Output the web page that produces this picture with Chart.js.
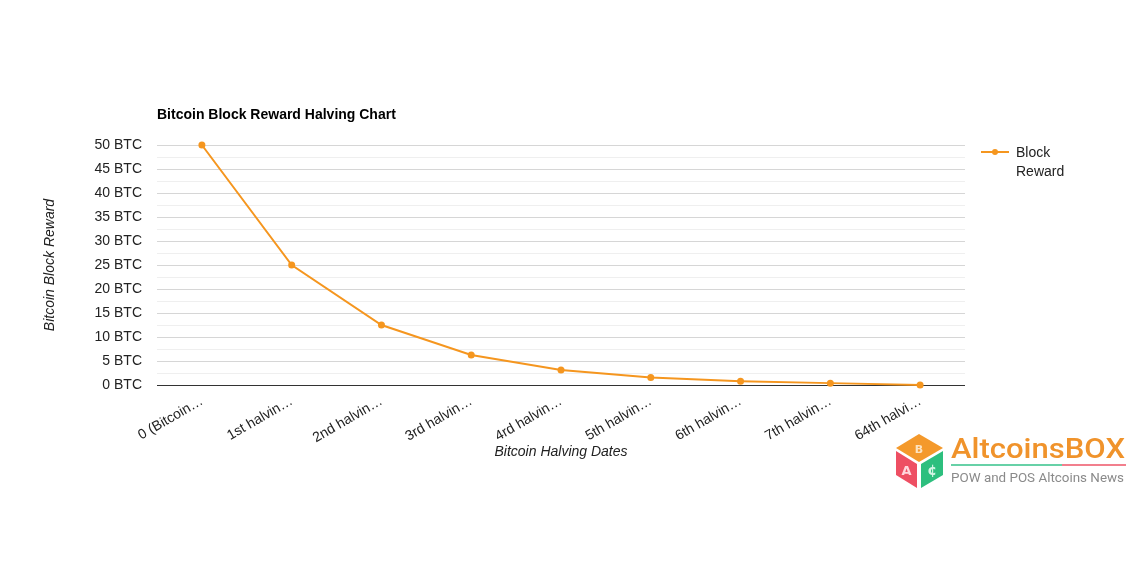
<!DOCTYPE html>
<html>
<head>
<meta charset="utf-8">
<title>Bitcoin Block Reward Halving Chart</title>
<script src="https://cdn.jsdelivr.net/npm/chart.js@4.4.1/dist/chart.umd.min.js"></script>
<style>
  body { margin: 0; background: #fff; }
  #wrap { position: relative; width: 1140px; height: 570px; }
  #logo { position: absolute; left: 890px; top: 428px; }
</style>
</head>
<body>
<div id="wrap">
  <canvas id="myChart" width="1140" height="570"></canvas>
  <svg id="logo" width="245" height="64" viewBox="0 0 245 64">
    <!-- cubo -->
    <polygon points="6,20 29,6 53,20 29,34" fill="#f4992b"/>
    <polygon points="6,23 27,36 27,60 6,47" fill="#ee4f63"/>
    <polygon points="31,36 53,23 53,47 31,60" fill="#2dbf7e"/>
    <text x="29" y="24.5" text-anchor="middle" font-family="DejaVu Sans, sans-serif" font-size="11" font-weight="bold" fill="#fde3bf">B</text>
    <text x="16.5" y="47" text-anchor="middle" font-family="DejaVu Sans, sans-serif" font-size="13" font-weight="bold" fill="#ffd6dc">A</text>
    <text x="42" y="47" text-anchor="middle" font-family="DejaVu Sans, sans-serif" font-size="14" font-weight="bold" fill="#d3f5e4">¢</text>
    <!-- texto -->
    <text x="61" y="30" font-family="Roboto, sans-serif" font-size="28" font-weight="500" fill="#f0932b" textLength="174" lengthAdjust="spacingAndGlyphs">AltcoinsBOX</text>
    <line x1="61" y1="37" x2="172" y2="37" stroke="#35c28a" stroke-width="1.6"/>
    <line x1="172" y1="37" x2="236" y2="37" stroke="#ee5567" stroke-width="1.6"/>
    <text x="61" y="54" font-family="Roboto, sans-serif" font-size="13.5" fill="#8a8a8a" textLength="173" lengthAdjust="spacingAndGlyphs">POW and POS Altcoins News</text>
  </svg>
</div>

<script>
// ---------- Datos ----------
const halvings = [
  '0 (Bitcoin…', '1st halvin…', '2nd halvin…', '3rd halvin…', '4rd halvin…',
  '5th halvin…', '6th halvin…', '7th halvin…', '64th halvi…'
];
const blockReward = [50, 25, 12.5, 6.25, 3.125, 1.5625, 0.78125, 0.390625, 0];
const yMajorTicks = [0, 5, 10, 15, 20, 25, 30, 35, 40, 45, 50];
const yMinorTicks = [2.5, 7.5, 12.5, 17.5, 22.5, 27.5, 32.5, 37.5, 42.5, 47.5];

const chartTitle = 'Bitcoin Block Reward Halving Chart';
const xTitle = 'Bitcoin Halving Dates';
const yTitle = 'Bitcoin Block Reward';
const legendLines = ['Block', 'Reward'];

const lineColor = '#f5961f';
const fontFamily = '"Liberation Sans", Arial, sans-serif';

// ---------- Textos (título, ejes, leyenda) ----------
const textosPlugin = {
  id: 'textos',
  afterDraw(chart) {
    const { ctx, chartArea } = chart;
    ctx.save();
    ctx.textBaseline = 'middle';

    // título
    ctx.fillStyle = '#000';
    ctx.font = 'bold 14px ' + fontFamily;
    ctx.textAlign = 'left';
    ctx.fillText(chartTitle, chartArea.left, 115);

    // títulos de ejes
    ctx.fillStyle = '#222';
    ctx.font = 'italic 14px ' + fontFamily;
    ctx.textAlign = 'center';
    ctx.fillText(xTitle, (chartArea.left + chartArea.right) / 2, 452);
    ctx.save();
    ctx.translate(50, (chartArea.top + chartArea.bottom) / 2);
    ctx.rotate(-Math.PI / 2);
    ctx.fillText(yTitle, 0, 0);
    ctx.restore();

    // leyenda
    const lx = chartArea.right + 16;
    const ly = 152;
    ctx.strokeStyle = lineColor;
    ctx.lineWidth = 2;
    ctx.beginPath();
    ctx.moveTo(lx, ly);
    ctx.lineTo(lx + 28, ly);
    ctx.stroke();
    ctx.fillStyle = lineColor;
    ctx.beginPath();
    ctx.arc(lx + 14, ly, 3, 0, Math.PI * 2);
    ctx.fill();
    ctx.fillStyle = '#222';
    ctx.font = '14px ' + fontFamily;
    ctx.textAlign = 'left';
    legendLines.forEach((t, i) => ctx.fillText(t, lx + 35, ly + 1 + i * 19.5));

    ctx.restore();
  }
};

// ---------- Gráfica ----------
const ctx = document.getElementById('myChart').getContext('2d');

const grafica = new Chart(ctx, {
  type: 'line',
  data: {
    labels: halvings,
    datasets: [{
      label: 'Block Reward',
      data: blockReward,
      borderColor: lineColor,
      backgroundColor: lineColor,
      borderWidth: 2,
      pointRadius: 3.5,
      pointBorderWidth: 0,
      tension: 0,
      clip: false
    }]
  },
  options: {
    responsive: false,
    animation: false,
    layout: {
      padding: { top: 145, right: 175, bottom: 0, left: 0 }
    },
    scales: {
      x: {
        offset: true,
        afterFit: s => { s.height = 185; },
        grid: { display: false, drawTicks: false },
        border: { display: false },
        ticks: {
          autoSkip: false,
          maxRotation: 30,
          minRotation: 30,
          padding: 8,
          color: '#222',
          font: { family: fontFamily, size: 14 }
        }
      },
      y: {
        min: 0,
        max: 50,
        afterFit: s => { s.width = 157; },
        afterBuildTicks: s => {
          s.ticks = yMajorTicks.concat(yMinorTicks)
            .sort((a, b) => a - b)
            .map(v => ({ value: v }));
        },
        border: { display: false },
        grid: {
          drawTicks: false,
          lineWidth: 1,
          color: c => {
            const v = c.tick ? c.tick.value : null;
            if (v === 0) return '#333';
            return yMajorTicks.includes(v) ? '#d6d6d6' : '#efefef';
          }
        },
        ticks: {
          autoSkip: false,
          padding: 15,
          color: '#222',
          font: { family: fontFamily, size: 14 },
          callback: v => yMajorTicks.includes(v) ? v + ' BTC' : ''
        }
      }
    },
    plugins: {
      legend: { display: false },
      title: { display: false },
      tooltip: { enabled: false }
    }
  },
  plugins: [textosPlugin]
});
</script>
</body>
</html>
